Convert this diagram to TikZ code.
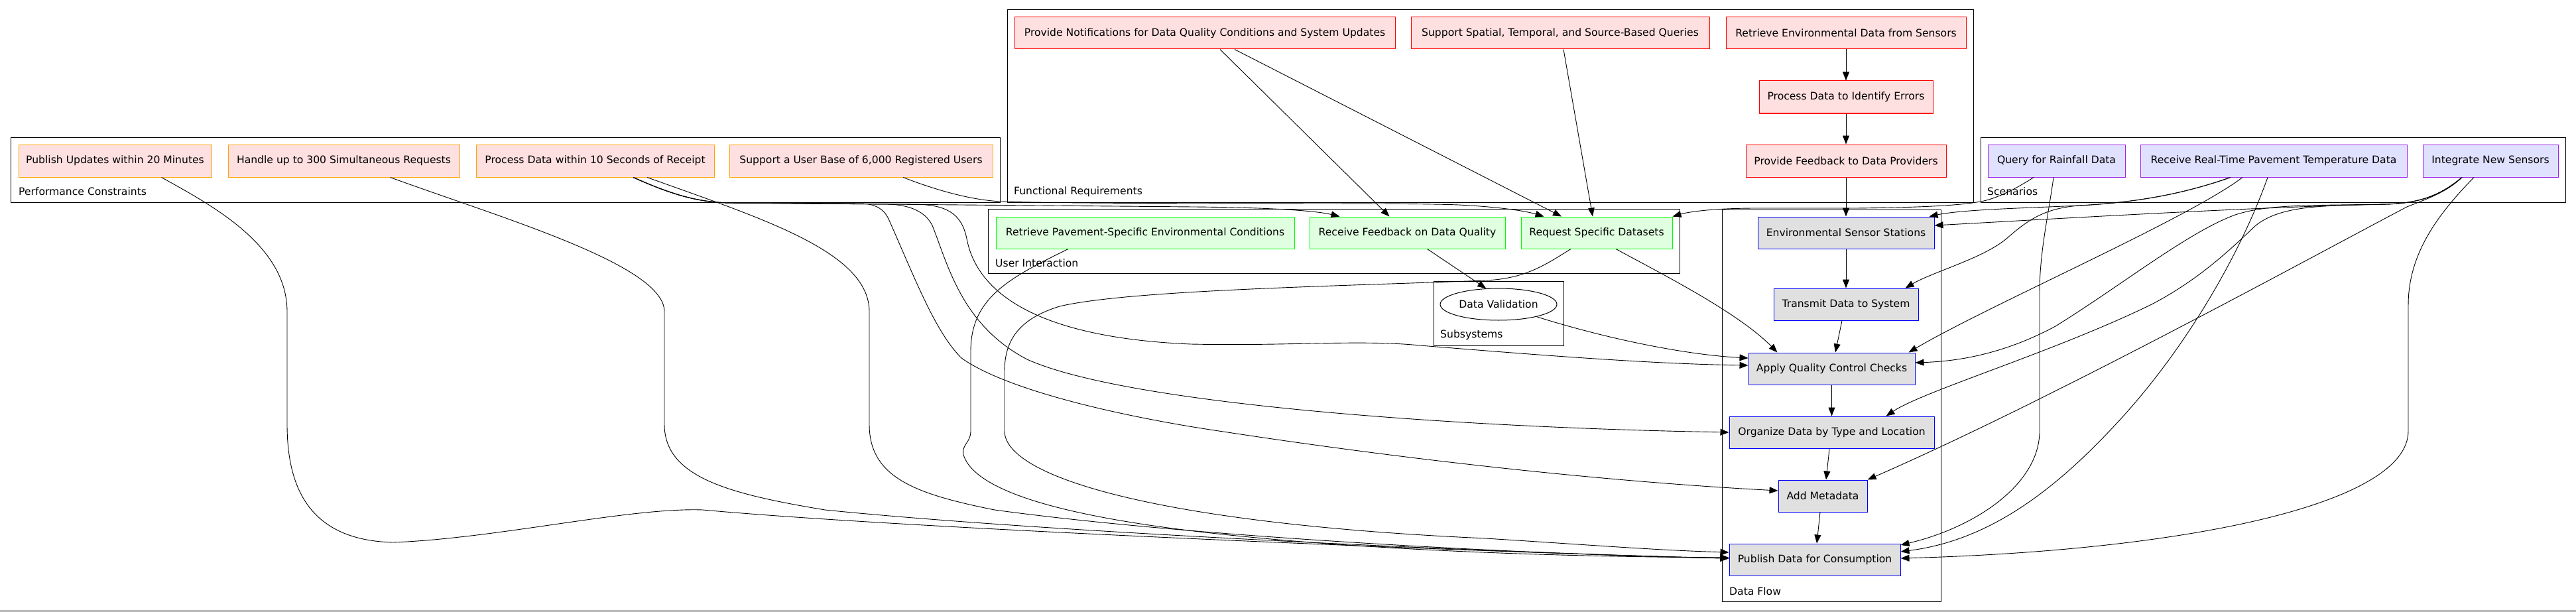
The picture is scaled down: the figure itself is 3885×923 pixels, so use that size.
\documentclass[tikz,border=0pt]{standalone}
\usepackage{fontspec}
\setmainfont{DejaVu Sans}
\usetikzlibrary{arrows.meta,calc,shapes.geometric}
\definecolor{pinkf}{RGB}{255,224,224}
\definecolor{greenf}{RGB}{224,255,224}
\definecolor{lavf}{RGB}{224,224,255}
\definecolor{grayf}{RGB}{224,224,224}
\definecolor{orangeb}{RGB}{255,165,0}
\definecolor{redb}{RGB}{255,0,0}
\definecolor{greenb}{RGB}{0,255,0}
\definecolor{blueb}{RGB}{0,0,255}
\definecolor{purpleb}{RGB}{160,32,240}
\begin{document}
\begin{tikzpicture}[x=1pt,y=-1pt,
  font=\fontsize{15.6}{18}\selectfont,
  sz/.style 2 args={minimum width=#1pt, minimum height=#2pt},
  box/.style={rectangle, line width=1pt, inner sep=0pt, text=black},
  perfbox/.style={box, draw=orangeb, fill=pinkf},
  funcbox/.style={box, draw=redb, fill=pinkf},
  uibox/.style={box, draw=greenb, fill=greenf},
  flowbox/.style={box, draw=blueb, fill=grayf},
  scenbox/.style={box, draw=purpleb, fill=lavf},
  clus/.style={rectangle, draw=black, line width=1pt, inner sep=0pt, fill=white},
  clab/.style={anchor=west, inner sep=0pt},
  e/.style={line width=0.9pt, draw=black, -{Triangle[length=13pt,width=10pt]}}]
\useasboundingbox (0,0) rectangle (3885,923);
\fill[white] (0,0) rectangle (3885,923);
\draw[gray!55, line width=3pt] (0,921.5) -- (3885,921.5);

% clusters
\node[clus, sz={1492}{98}] (perf) at (762,256) {};
\node[clus, sz={1457}{290}] (fr) at (2247.5,160) {};
\node[clus, sz={1043}{97}] (ui) at (2011.5,363.5) {};
\node[clus, sz={196}{97}] (sub) at (2260,472.5) {};
\node[clus, sz={330}{591}] (df) at (2762,611.5) {};
\node[clus, sz={882}{98}] (sc) at (3428,256) {};

\node[clab] (perfl) at (28,289) {Performance Constraints};
\node[clab] (frl) at (1529,289) {Functional Requirements};
\node[clab] (uil) at (1501,397) {User Interaction};
\node[clab] (subl) at (2172,505) {Subsystems};
\node[clab] (dfl) at (2608,892) {Data Flow};
\node[clab] (scl) at (2997,289) {Scenarios};

% nodes
\node[perfbox, sz={291}{49}] (pu) at (173.5,242.5) {Publish Updates within 20 Minutes};
\node[perfbox, sz={349}{49}] (hu) at (518.5,242.5) {Handle up to 300 Simultaneous Requests};
\node[perfbox, sz={359}{49}] (pd) at (897.5,242.5) {Process Data within 10 Seconds of Receipt};
\node[perfbox, sz={397}{49}] (su) at (1298.5,242.5) {Support a User Base of 6,000 Registered Users};

\node[funcbox, sz={574}{48}] (pn) at (1817,50) {Provide Notifications for Data Quality Conditions and System Updates};
\node[funcbox, sz={450}{48}] (ss) at (2353,50) {Support Spatial, Temporal, and Source-Based Queries};
\node[funcbox, sz={362}{48}] (re) at (2784,50) {Retrieve Environmental Data from Sensors};
\node[funcbox, sz={262}{49}] (pe) at (2784,146.5) {Process Data to Identify Errors};
\node[funcbox, sz={302}{49}] (pf) at (2784,242.5) {Provide Feedback to Data Providers};

\node[uibox, sz={450}{48}] (rp) at (1727,351) {Retrieve Pavement-Specific Environmental Conditions};
\node[uibox, sz={295}{48}] (rf) at (2122.5,351) {Receive Feedback on Data Quality};
\node[uibox, sz={228}{48}] (rs) at (2408,351) {Request Specific Datasets};

\node[ellipse, draw=black, line width=1pt, fill=white, inner sep=0pt, sz={176}{48}] (dv) at (2260,459) {Data Validation};

\node[flowbox, sz={266}{48}] (es) at (2784,351) {Environmental Sensor Stations};
\node[flowbox, sz={218}{48}] (td) at (2784,459) {Transmit Data to System};
\node[flowbox, sz={251}{48}] (aq) at (2762.5,556) {Apply Quality Control Checks};
\node[flowbox, sz={309}{48}] (od) at (2762.5,652) {Organize Data by Type and Location};
\node[flowbox, sz={134}{48}] (am) at (2749,748) {Add Metadata};
\node[flowbox, sz={258}{48}] (pb) at (2737,844) {Publish Data for Consumption};

\node[scenbox, sz={207}{49}] (qr) at (3101.5,242.5) {Query for Rainfall Data};
\node[scenbox, sz={402}{49}] (rt) at (3429,242.5) {Receive Real-Time Pavement Temperature Data};
\node[scenbox, sz={204}{49}] (ins) at (3756,242.5) {Integrate New Sensors};

% functional chain
\draw[e] (re) -- (pe);
\draw[e] (pe) -- (pf);
\draw[e] (pf) -- (es);
\draw[e] ($(pn.south)+(23,0)$) -- ($(rf.north)+(-27,0)$);
\draw[e] ($(pn.south)+(45,0)$) -- ($(rs.north)+(-53,0)$);
\draw[e] ($(ss.south)+(5,0)$) -- ($(rs.north)+(-6,0)$);

% user interaction
\draw[e] ($(rf.south)+(30,0)$) -- (dv.128);
\draw[e] ($(rs.south)+(29,0)$) .. controls (2500,410) and (2620,470) .. ($(aq.north west)+(44,0)$);
\draw[e] (dv.-18) .. controls (2420,510) and (2540,535) .. ($(aq.west)+(0,-16)$);
\draw[e] ($(rs.south)+(-39,0)$) .. controls (2330,400) and (2300,420) .. (2241,423)
  .. controls (2000,432) and (1700,438) .. (1598,462)
  .. controls (1540,480) and (1515,510) .. (1515,560) -- (1515,650)
  .. controls (1515,720) and (1750,790) .. (2241,812)
  .. controls (2400,822) and (2500,830) .. ($(pb.west)+(0,-11)$);
\draw[e] ($(rp.south)+(-116,0)$) .. controls (1520,420) and (1464,450) .. (1464,530) -- (1464,650)
  .. controls (1464,668) and (1450,670) .. (1453,686)
  .. controls (1470,740) and (1600,780) .. (1845,806)
  .. controls (2100,833) and (2400,840) .. ($(pb.west)+(0,-3)$);

% data flow chain
\draw[e] (es) -- (td);
\draw[e] ($(td.south)+(-6,0)$) -- ($(aq.north)+(5.5,0)$);
\draw[e] (aq) -- (od);
\draw[e] ($(od.south)+(-3.5,0)$) -- ($(am.north)+(5,0)$);
\draw[e] ($(am.south)+(-4,0)$) -- ($(pb.north)+(3,0)$);

% performance constraints
\draw[e] ($(pu.south)+(70,0)$) .. controls (320,310) and (433,370) .. (433,470) -- (433,640)
  .. controls (433,740) and (470,815) .. (593,818)
  .. controls (750,812) and (950,765) .. (1060,769)
  .. controls (1400,800) and (2300,835) .. ($(pb.west)+(0,-2)$);
\draw[e] ($(hu.south)+(70,0)$) .. controls (760,330) and (1002,400) .. (1002,470) -- (1002,640)
  .. controls (1002,720) and (1100,745) .. (1244,769)
  .. controls (1600,805) and (2300,835) .. ($(pb.west)+(0,-2)$);
\draw[e] ($(pd.south)+(78.5,0)$) .. controls (1150,330) and (1311,380) .. (1311,470) -- (1311,640)
  .. controls (1311,720) and (1380,745) .. (1500,769)
  .. controls (1800,810) and (2300,836) .. ($(pb.west)+(0,-2)$);
\draw[e] ($(pd.south)+(57.5,0)$) .. controls (1010,292) and (1050,305) .. (1100,306) -- (1380,308)
  .. controls (1425,309) and (1450,320) .. (1458,360)
  .. controls (1475,450) and (1580,510) .. (1796,519)
  .. controls (1950,522) and (2050,512) .. (2142,521)
  .. controls (2350,538) and (2500,549) .. ($(aq.west)+(0,-5)$);
\draw[e] ($(pd.south)+(57.5,0)$) .. controls (1010,292) and (1050,305) .. (1100,306) -- (1340,308)
  .. controls (1370,309) and (1395,318) .. (1406,340)
  .. controls (1430,400) and (1450,490) .. (1549,542)
  .. controls (1700,610) and (2200,645) .. (od.west);
\draw[e] ($(pd.south)+(57.5,0)$) .. controls (1010,292) and (1050,305) .. (1100,306) -- (1300,307)
  .. controls (1320,308) and (1332,314) .. (1340,330)
  .. controls (1380,420) and (1410,500) .. (1450,540)
  .. controls (1520,590) and (1700,630) .. (1845,651)
  .. controls (2100,690) and (2400,725) .. ($(am.west)+(0,-8)$);
\draw[e] ($(pd.south)+(57.5,0)$) .. controls (1010,292) and (1050,305) .. (1100,306) -- (1800,312)
  .. controls (1920,313) and (1985,318) .. ($(rf.north west)+(46,0)$);
\draw[e] ($(su.south)+(63.5,0)$) .. controls (1420,290) and (1470,302) .. (1510,304)
  .. controls (1700,309) and (2100,305) .. (2200,309)
  .. controls (2260,312) and (2300,318) .. ($(rs.north west)+(35,0)$);

% scenarios
\draw[e] ($(qr.south)+(-34.5,0)$) .. controls (3040,285) and (3010,300) .. (2987,304)
  .. controls (2950,311) and (2880,313) .. (2800,314) -- (2650,314)
  .. controls (2580,314) and (2545,320) .. (rs.north east);
\draw[e] ($(qr.south)+(-4.5,0)$) .. controls (3090,320) and (3076,380) .. (3076,440) -- (3076,650)
  .. controls (3076,730) and (2980,795) .. ($(pb.east)+(0,-22)$);
\draw[e] ($(rt.south)+(-65,0)$) .. controls (3300,290) and (3230,305) .. (3136,310)
  .. controls (3050,314) and (2960,316) .. ($(es.north east)+(-8,0)$);
\draw[e] ($(rt.south)+(-65,0)$) .. controls (3300,290) and (3230,305) .. (3136,310)
  .. controls (3085,314) and (3060,330) .. (3026,360)
  .. controls (2990,390) and (2915,410) .. ($(td.north east)+(-20,0)$);
\draw[e] ($(rt.south)+(-47,0)$) .. controls (3300,330) and (3000,460) .. ($(aq.north east)+(-10,0)$);
\draw[e] ($(rt.south)+(-9,0)$) .. controls (3380,380) and (3300,520) .. (3200,630)
  .. controls (3100,740) and (3000,815) .. ($(pb.east)+(0,-12)$);
\draw[e] ($(ins.south)+(-43,0)$) .. controls (3680,295) and (3650,306) .. (3600,308)
  .. controls (3400,312) and (3100,330) .. ($(es.east)+(0,-11)$);
\draw[e] ($(ins.south)+(-43,0)$) .. controls (3680,295) and (3650,306) .. (3600,308)
  .. controls (3480,310) and (3420,308) .. (3371,324)
  .. controls (3300,350) and (3200,430) .. (3100,492)
  .. controls (3020,535) and (2950,545) .. ($(aq.east)+(0,-9)$);
\draw[e] ($(ins.south)+(-43,0)$) .. controls (3680,295) and (3650,306) .. (3600,308)
  .. controls (3500,310) and (3440,310) .. (3402,340)
  .. controls (3370,370) and (3320,420) .. (3245,459)
  .. controls (3100,530) and (2900,590) .. ($(od.north east)+(-73,0)$);
\draw[e] ($(ins.south)+(-43,0)$) .. controls (3690,290) and (3660,300) .. (3630,312)
  .. controls (3500,380) and (3100,600) .. (am.north east);
\draw[e] ($(ins.south)+(-25,0)$) .. controls (3680,320) and (3632,380) .. (3632,460) -- (3632,650)
  .. controls (3632,760) and (3300,830) .. ($(pb.east)+(0,-2)$);
\end{tikzpicture}
\end{document}
